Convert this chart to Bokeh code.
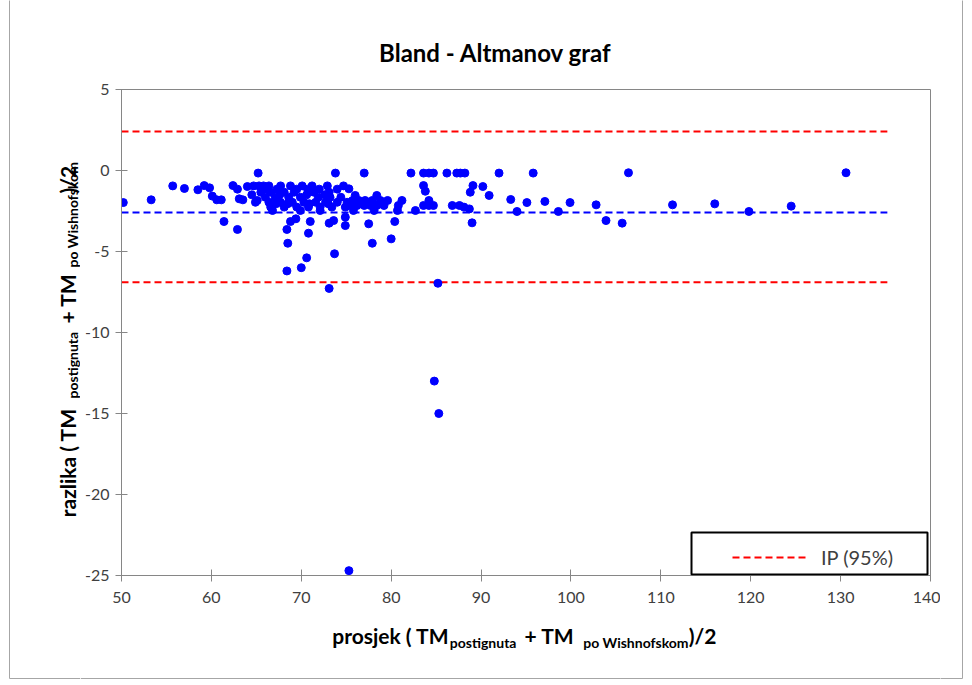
import math
from bokeh.plotting import figure
from bokeh.layouts import column, row
from bokeh.models import (Range1d, FixedTicker, Label, Legend, LegendItem,
                          BoxAnnotation, Span)
from bokeh.embed import file_html
from bokeh.resources import INLINE

# ---- data ----
avg_vals = [
    50.2, 53.3, 55.7, 57.0, 58.5, 59.2, 59.8, 60.1, 60.6, 61.1, 61.4, 62.4, 62.9, 62.9,
    63.1, 63.5, 64.0, 65.1, 65.2,
    64.7, 65.3, 65.8, 66.4, 67.7, 68.8, 70.1, 71.2, 72.9, 74.7,
    65.5, 66.6, 68.1, 69.2, 71.4, 73.1,
    66.0, 67.1, 68.6, 69.9, 71.9, 73.2, 74.4,
    64.9, 66.4, 67.7, 69.0, 70.3, 71.6, 72.7, 74.0, 75.1,
    66.6, 68.1, 69.5, 70.8, 72.1, 73.4, 74.9,
    66.8, 69.9, 72.1,
    66.1, 67.3, 69.5, 70.7, 72.0, 74.0,
    67.2, 68.5, 70.9, 73.0, 76.8, 79.0,
    64.5, 67.6, 70.6, 72.6,
    68.8, 71.0, 73.1, 73.6, 69.4, 68.4, 70.8, 68.5, 73.7, 70.6, 70.0, 68.4, 74.9, 74.9,
    73.1, 73.8,
    77.0, 82.2, 83.6, 84.2, 84.7,
    75.3, 83.6, 83.8, 76.0, 78.4,
    75.7, 76.4, 77.1, 77.9, 78.8, 79.6, 81.2,
    75.5, 76.2, 77.0, 77.7, 78.4, 79.2, 80.8, 83.6, 84.2, 84.7,
    75.8, 78.1, 80.7, 82.7,
    77.5, 80.4, 80.0, 77.9,
    86.2, 87.3, 87.7, 88.2, 92.0, 95.8,
    89.1, 88.8, 90.2, 90.9, 93.3, 95.1,
    86.8, 87.6, 88.1, 88.7, 89.0, 94.0,
    84.2, 85.2,
    97.1, 98.6, 99.9, 102.8, 103.9, 105.7, 106.4, 111.3, 116.0, 119.8, 124.5, 130.6,
    84.8, 85.3, 75.3,
]
diff_vals = [
    -1.98, -1.81, -0.95, -1.11, -1.19, -0.93, -1.07, -1.58, -1.81, -1.81, -3.15, -0.93, -1.15, -3.64,
    -1.75, -1.81, -0.99, -1.85, -0.16,
    -0.95, -0.95, -0.95, -0.95, -0.95, -0.95, -0.95, -0.95, -0.95, -0.95,
    -1.34, -1.34, -1.34, -1.34, -1.34, -1.34,
    -1.65, -1.65, -1.65, -1.65, -1.65, -1.65, -1.65,
    -1.96, -1.96, -1.96, -1.96, -1.96, -1.96, -1.96, -1.96, -1.96,
    -2.26, -2.26, -2.26, -2.26, -2.26, -2.26, -2.26,
    -2.47, -2.47, -2.47,
    -1.15, -1.15, -1.15, -1.15, -1.15, -1.15,
    -2.05, -2.05, -2.05, -2.05, -2.05, -2.05,
    -1.50, -1.50, -1.50, -1.50,
    -3.15, -3.15, -3.25, -3.09, -2.98, -3.64, -3.87, -4.49, -5.14, -5.39, -6.00, -6.20, -2.88, -3.40,
    -7.28, -0.16,
    -0.16, -0.16, -0.16, -0.16, -0.16,
    -1.13, -0.93, -1.28, -1.54, -1.54,
    -1.85, -1.85, -1.85, -1.85, -1.85, -1.85, -1.85,
    -2.16, -2.16, -2.16, -2.16, -2.16, -2.16, -2.16, -2.16, -2.16, -2.16,
    -2.47, -2.47, -2.47, -2.47,
    -3.29, -3.15, -4.22, -4.49,
    -0.16, -0.16, -0.16, -0.16, -0.16, -0.16,
    -0.93, -1.34, -0.99, -1.54, -1.79, -1.98,
    -2.16, -2.16, -2.26, -2.37, -3.23, -2.53,
    -1.85, -6.96,
    -1.91, -2.53, -1.98, -2.12, -3.09, -3.25, -0.14, -2.12, -2.06, -2.53, -2.20, -0.14,
    -13.0, -15.0, -24.7,
]
line_x = [50, 135.2]
mean_diff = -2.6
upper_limit = 2.4
lower_limit = -6.9
x_ticks = [50, 60, 70, 80, 90, 100, 110, 120, 130, 140]
y_ticks = [-25, -20, -15, -10, -5, 0, 5]
y_tick_labels = ["-25", "-20", "-15", "-10", "-5", "0", "5"]
title_text = "Bland - Altmanov graf"
legend_text = "IP (95%)"
x_label_parts = ["prosjek ( TM", "postignuta", "+ TM", "po Wishnofskom", ")/2"]
y_label_parts = ["razlika ( TM", "postignuta", "+ TM", "po Wishnofskom", ")/2"]

FONT = "Lato"
AXIS_GRAY = "#868686"
TEXT_GRAY = "#404040"
FRAME_GRAY = "#a6a6a6"

# overall page geometry (page pixels)
W, H = 964, 680
LEFT_W = 80
TOP_H, BOTTOM_H = 70, 65
MB_LEFT, MB_RIGHT = 121 - LEFT_W, 10
MAIN_W = MB_LEFT + (930 - 121) + MB_RIGHT
RIGHT_W = W - LEFT_W - MAIN_W
MAIN_H = H - TOP_H - BOTTOM_H
MB_TOP = 89 - TOP_H
MB_BOTTOM = MAIN_H - (575 - TOP_H)
X0_MID, X1_MID = LEFT_W, LEFT_W + MAIN_W


def strip(w, h, x0, x1, y0, y1):
    f = figure(width=w, height=h, x_range=Range1d(x0, x1), y_range=Range1d(y1, y0),
               output_backend="svg", toolbar_location=None, title=None,
               x_axis_location=None, y_axis_location=None, min_border=0)
    f.frame_align = False
    f.outline_line_color = None
    f.grid.visible = False
    f.background_fill_color = "white"
    f.border_fill_color = "white"
    return f


def add_text(fig, text, x, y, size, angle=0.0, align="left", bold=True):
    fig.add_layout(Label(x=x, y=y, text=text, text_font=FONT,
                         text_font_size=f"{size}px",
                         text_font_style="bold" if bold else "normal",
                         text_color="black", angle=angle, text_align=align,
                         text_baseline="alphabetic"))


def frame_part(fig, left, right, top, bottom):
    fig.add_layout(BoxAnnotation(left=left, right=right, top=top, bottom=bottom,
                                 fill_alpha=0.0, line_color=FRAME_GRAY,
                                 line_width=1, line_alpha=1.0))


# ---- main chart ----
p = figure(width=MAIN_W, height=MAIN_H, x_range=Range1d(50, 140), y_range=Range1d(-25, 5),
           output_backend="svg", toolbar_location=None, title=None,
           min_border_left=MB_LEFT, min_border_right=MB_RIGHT,
           min_border_top=MB_TOP, min_border_bottom=MB_BOTTOM)
p.frame_align = False
p.background_fill_color = "white"
p.border_fill_color = "white"
p.outline_line_color = AXIS_GRAY
p.outline_line_width = 1
p.xgrid.visible = False
p.ygrid.visible = False

for ax in (p.xaxis[0], p.yaxis[0]):
    ax.axis_line_color = AXIS_GRAY
    ax.major_tick_line_color = AXIS_GRAY
    ax.major_tick_in = 6
    ax.major_tick_out = 6
    ax.minor_tick_line_color = None
    ax.major_label_text_font = FONT
    ax.major_label_text_font_size = "16px"
    ax.major_label_text_color = TEXT_GRAY

p.xaxis[0].ticker = FixedTicker(ticks=x_ticks)
p.xaxis[0].major_label_standoff = 10
p.yaxis[0].ticker = FixedTicker(ticks=y_ticks)
p.yaxis[0].major_label_overrides = {t: s for t, s in zip(y_ticks, y_tick_labels)}
p.yaxis[0].major_label_standoff = 6

up = p.line(line_x, [upper_limit] * 2, line_color="red", line_width=2, line_dash="7 4")
p.line(line_x, [lower_limit] * 2, line_color="red", line_width=2, line_dash="7 4")
p.line(line_x, [mean_diff] * 2, line_color="blue", line_width=2, line_dash="7 4")

p.scatter(avg_vals, diff_vals, size=8, fill_color="#0000ff", line_color="#0000ff")

box = BoxAnnotation(left=570, right=806, bottom=1, top=43,
                    left_units="screen", right_units="screen",
                    bottom_units="screen", top_units="screen",
                    fill_color="white", fill_alpha=1.0,
                    line_color="black", line_width=2, line_alpha=1.0)
p.add_layout(box)
legend = Legend(items=[LegendItem(label=legend_text, renderers=[up])],
                location=(611, 6), padding=4, glyph_width=76, glyph_height=20,
                label_standoff=13, label_text_font=FONT, label_text_font_size="20px",
                label_text_color=TEXT_GRAY, border_line_color=None,
                background_fill_alpha=0.0, spacing=0, margin=0)
p.add_layout(legend)

# ---- surrounding strips (page coordinates used as data coordinates) ----
left = strip(LEFT_W, H, 0, LEFT_W, 0, H)
frame_part(left, 9, LEFT_W + 50, -50, 678)
a = math.pi / 2
add_text(left, y_label_parts[0], 67, 516.7, 21, angle=a)
add_text(left, y_label_parts[1], 71.5, 398, 14, angle=a)
add_text(left, y_label_parts[2], 67, 323, 21, angle=a)
add_text(left, y_label_parts[3], 71.5, 267, 14, angle=a)
add_text(left, y_label_parts[4], 67, 193, 21, angle=a)

right = strip(RIGHT_W, H, X1_MID, W, 0, H)
frame_part(right, X1_MID - 50, 962, -50, 678)

top = strip(MAIN_W, TOP_H, X0_MID, X1_MID, 0, TOP_H)
add_text(top, title_text, 495, 51.7, 24, align="center")

bottom = strip(MAIN_W, BOTTOM_H, X0_MID, X1_MID, TOP_H + MAIN_H, H)
bottom.add_layout(Span(location=678, dimension="width", line_color=FRAME_GRAY, line_width=1))
add_text(bottom, x_label_parts[0], 331.7, 635, 21)
add_text(bottom, x_label_parts[1], 449.3, 641.7, 14)
add_text(bottom, x_label_parts[2], 524, 635, 21)
add_text(bottom, x_label_parts[3], 582.7, 641.7, 14)
add_text(bottom, x_label_parts[4], 688.3, 635, 21)

layout = row(left, column(top, p, bottom), right)
open("out.html", "w").write(file_html(layout, INLINE))
